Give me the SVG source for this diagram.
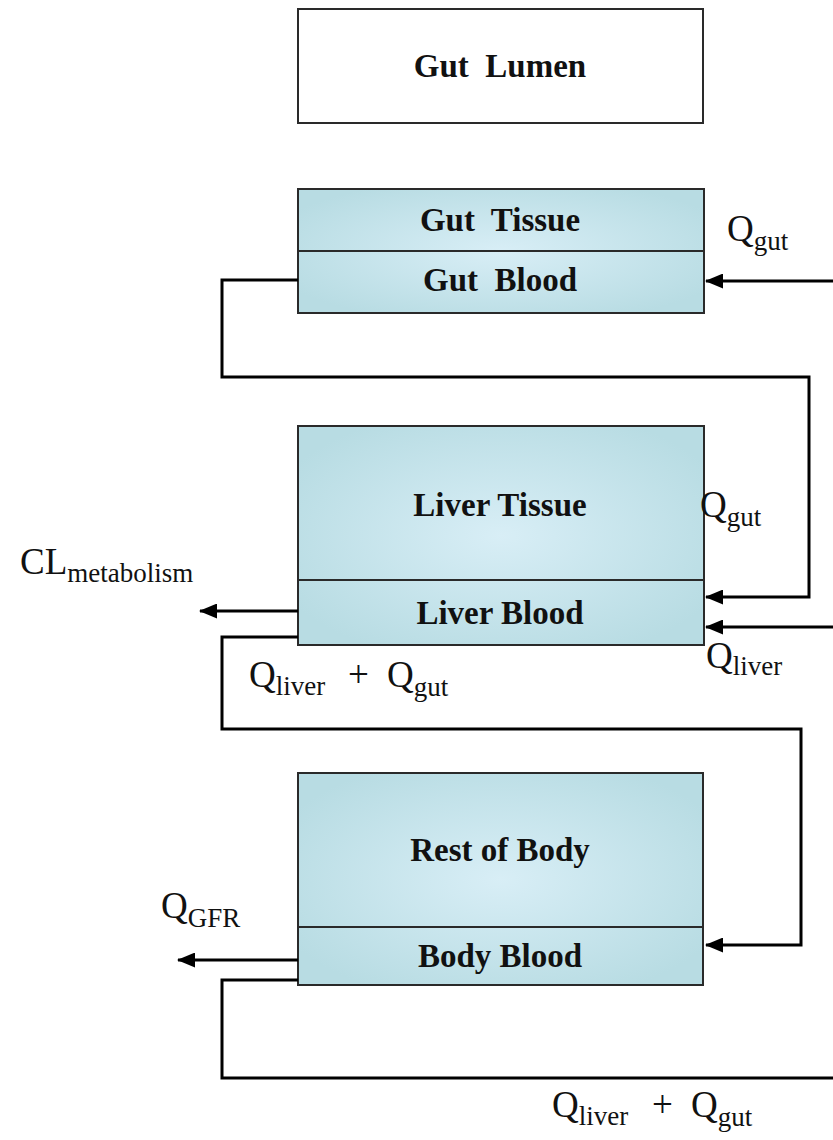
<svg xmlns="http://www.w3.org/2000/svg" width="833" height="1140" viewBox="0 0 833 1140">
<style>
.box{stroke:#2a2a2a;stroke-width:2}
.blue{fill:url(#g)}
.div{stroke:#2a2a2a;stroke-width:2}
.lbl{font-family:"Liberation Serif","Times New Roman",serif;font-weight:bold;font-size:33px;fill:#111;text-anchor:middle;white-space:pre}
.q{font-family:"Liberation Serif","Times New Roman",serif;font-size:37px;fill:#111}
.sub{font-size:27px}
.c{fill:none;stroke:#000;stroke-width:3}
</style>
<defs>
<radialGradient id="g" cx="50%" cy="50%" r="60%">
<stop offset="0" stop-color="#d8eef6"/>
<stop offset="1" stop-color="#b8dce3"/>
</radialGradient>
<marker id="a" markerUnits="userSpaceOnUse" markerWidth="18" markerHeight="15" refX="17" refY="7.5" orient="auto">
<path d="M0,0 L18,7.5 L0,15 Z" fill="#000"/>
</marker>
</defs>
<rect width="833" height="1140" fill="#fff"/>
<g id="gut-lumen">
<rect class="box" x="298" y="9" width="405" height="114" fill="#fff"/>
<text class="lbl" x="500" y="77" xml:space="preserve">Gut  Lumen</text>
</g>
<g id="gut">
<rect class="box blue" x="298" y="189" width="406" height="124"/>
<line class="div" x1="298" y1="251" x2="704" y2="251"/>
<text class="lbl" x="500" y="231" xml:space="preserve">Gut  Tissue</text>
<text class="lbl" x="500" y="291" xml:space="preserve">Gut  Blood</text>
</g>
<g id="liver">
<rect class="box blue" x="298" y="426" width="406" height="219"/>
<line class="div" x1="298" y1="580" x2="704" y2="580"/>
<text class="lbl" x="500" y="516">Liver Tissue</text>
<text class="lbl" x="500" y="624">Liver Blood</text>
</g>
<g id="body">
<rect class="box blue" x="298" y="773" width="405" height="212"/>
<line class="div" x1="298" y1="927" x2="703" y2="927"/>
<text class="lbl" x="500" y="861">Rest of Body</text>
<text class="lbl" x="500" y="967">Body Blood</text>
</g>
<g id="connectors">
<line class="c" x1="833" y1="281" x2="706" y2="281" marker-end="url(#a)"/>
<polyline class="c" points="298,280 222,280 222,377 809,377 809,597 706,597" marker-end="url(#a)"/>
<line class="c" x1="298" y1="611" x2="200" y2="611" marker-end="url(#a)"/>
<line class="c" x1="833" y1="627" x2="706" y2="627" marker-end="url(#a)"/>
<polyline class="c" points="298,637 222,637 222,729 801,729 801,945 706,945" marker-end="url(#a)"/>
<line class="c" x1="298" y1="960" x2="178" y2="960" marker-end="url(#a)"/>
<polyline class="c" points="298,980 222,980 222,1078 833,1078"/>
</g>
<g id="labels">
<text class="q" x="727" y="241">Q<tspan class="sub" dy="9">gut</tspan></text>
<text class="q" x="700" y="517">Q<tspan class="sub" dy="9">gut</tspan></text>
<text class="q" x="706" y="668">Q<tspan class="sub" dy="7">liver</tspan></text>
<text class="q" x="20" y="574">CL<tspan class="sub" dy="8">metabolism</tspan></text>
<text class="q" x="249" y="687">Q<tspan class="sub" dy="8">liver</tspan><tspan x="348" y="687">+</tspan><tspan x="387" y="687">Q</tspan><tspan class="sub" dy="9">gut</tspan></text>
<text class="q" x="161" y="918">Q<tspan class="sub" font-size="24" dy="9">GFR</tspan></text>
<text class="q" x="552" y="1117">Q<tspan class="sub" dy="8">liver</tspan><tspan x="652" y="1117">+</tspan><tspan x="691" y="1117">Q</tspan><tspan class="sub" dy="9">gut</tspan></text>
</g>
</svg>
